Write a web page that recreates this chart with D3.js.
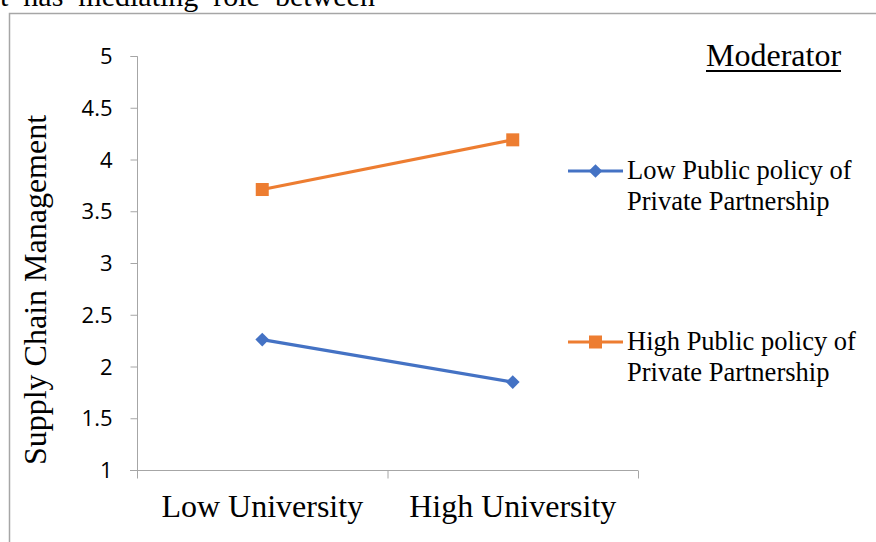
<!DOCTYPE html>
<html><head><meta charset="utf-8">
<script src="https://cdn.jsdelivr.net/npm/d3@7"></script>
<style>body{margin:0;background:#fff}svg{display:block}</style>
</head><body>
<svg id="c" width="876" height="542"></svg>
<script>
const categories = ["Low University", "High University"];
const seriesNames = ["Low Public policy of Private Partnership", "High Public policy of Private Partnership"];
const lowPolicy = [2.26, 1.85];
const highPolicy = [3.71, 4.19];
const yTicks = [1, 1.5, 2, 2.5, 3, 3.5, 4, 4.5, 5];
const yTitle = "Supply Chain Management";
const legendTitle = "Moderator";
const topText = "t  has  mediating  role  between";

const svg = d3.select("#c");
const serif = "'Liberation Serif','Times New Roman',serif";
const sans = "'Open Sans','Noto Sans',sans-serif";

// top cut text
svg.append("text").attr("x", 0).attr("y", 6).style("font-family", serif)
  .style("font-size", "30px").attr("fill", "#000").style("white-space","pre").text(topText);

// frame
svg.append("path").attr("d", "M9.5,542 V13.5 H876").attr("fill", "none").attr("stroke", "#a6a6a6").attr("stroke-width", 1.5);

const x = d3.scaleBand().domain(categories).range([137, 638]);
const y = d3.scaleLinear().domain([1, 5]).range([470, 56]);

// y axis
const ya = svg.append("g").attr("transform", "translate(137.5,0)")
  .call(d3.axisLeft(y).tickValues(yTicks).tickSize(7).tickFormat(d3.format("")));
ya.attr("font-size", 22).attr("font-family", sans);
ya.select(".domain").attr("stroke", "#a6a6a6").attr("d", "M-7," + (y(5)+0.5) + "H0V" + (y(1)+0.5));
ya.selectAll(".tick line").attr("stroke", "#a6a6a6");
ya.selectAll(".tick text").attr("font-size", 22).style("font-size", "22px").attr("fill", "#000").attr("x", -25).attr("dy", "0.35em");

// x axis
const xa = svg.append("g").attr("transform", "translate(0," + (y(1)+0.5) + ")")
  .call(d3.axisBottom(x).tickSize(0).tickFormat(""));
xa.select(".domain").attr("stroke", "#a6a6a6").attr("d", "M130,0H638");
const bounds = [x.range()[0]].concat(categories.map(c => x(c) + x.bandwidth()));
xa.selectAll("line.tk").data(bounds).enter().append("line").attr("class","tk")
  .attr("x1", d => d + 0.5).attr("x2", d => d + 0.5).attr("y1", 0).attr("y2", 8).attr("stroke", "#a6a6a6");
svg.selectAll("text.cat").data(categories).enter().append("text").attr("class","cat")
  .attr("x", d => x(d) + x.bandwidth()/2).attr("y", 517).attr("text-anchor", "middle")
  .style("font-family", serif).style("font-size", "32px").attr("fill", "#000").text(d => d);

// y title
svg.append("text").attr("transform", "translate(46,290) rotate(-90)").attr("text-anchor", "middle")
  .style("font-family", serif).style("font-size", "32px").attr("fill", "#000").text(yTitle);

const series = [
  {name: seriesNames[0], values: lowPolicy, color: "#4472c4", shape: "diamond"},
  {name: seriesNames[1], values: highPolicy, color: "#ed7d31", shape: "square"}
];
const line = d3.line().x((d, i) => x(categories[i]) + x.bandwidth()/2).y(d => y(d));
function marker(g, shape, color, cx, cy) {
  if (shape === "square") g.append("rect").attr("x", cx-6.5).attr("y", cy-6.5).attr("width", 13).attr("height", 13).attr("fill", color);
  else g.append("path").attr("d", d3.symbol(d3.symbolDiamond2, 120)()).attr("transform", `translate(${cx},${cy})`).attr("fill", color);
}
series.forEach(s => {
  svg.append("path").datum(s.values).attr("d", line).attr("fill", "none").attr("stroke", s.color).attr("stroke-width", 3.2);
  s.values.forEach((v, i) => marker(svg, s.shape, s.color, x(categories[i]) + x.bandwidth()/2, y(v)));
});

// legend
svg.append("text").attr("x", 706).attr("y", 66).style("font-family", serif).style("font-size", "32px")
  .attr("fill", "#000").text(legendTitle);
svg.append("line").attr("x1", 706).attr("x2", 841).attr("y1", 71).attr("y2", 71).attr("stroke", "#000").attr("stroke-width", 2);
const legY = [171, 342];
series.forEach((s, i) => {
  const g = svg.append("g");
  g.append("line").attr("x1", 568).attr("x2", 623).attr("y1", legY[i]).attr("y2", legY[i]).attr("stroke", s.color).attr("stroke-width", 3.2);
  marker(g, s.shape, s.color, 595.5, legY[i]);
  const words = s.name.split(" ");
  const l1 = words.slice(0, 4).join(" "), l2 = words.slice(4).join(" ");
  const t = g.append("text").style("font-family", serif).style("font-size", "26.5px").attr("fill", "#000");
  t.append("tspan").attr("x", 627).attr("y", legY[i] + 8).text(l1);
  t.append("tspan").attr("x", 627).attr("y", legY[i] + 39).text(l2);
});
</script>
</body></html>
